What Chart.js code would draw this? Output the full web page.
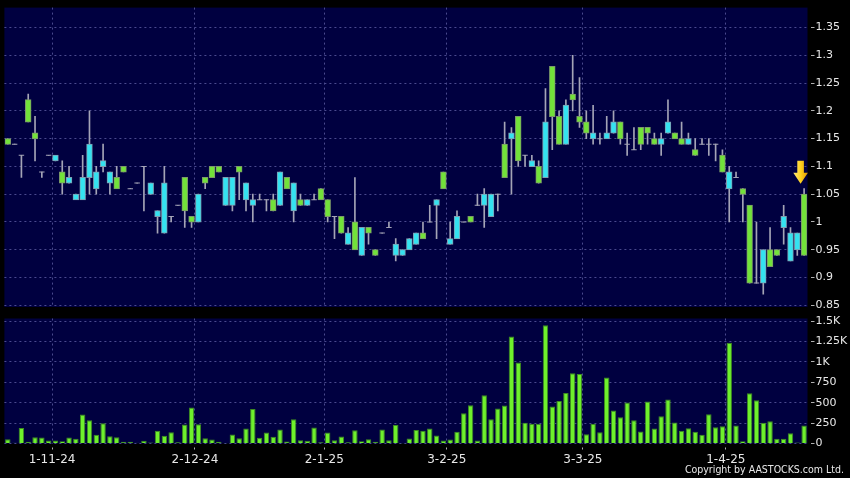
<!DOCTYPE html>
<html>
<head>
<meta charset="utf-8">
<script src="https://cdn.jsdelivr.net/npm/chart.js@4.4.1/dist/chart.umd.min.js"></script>
<style>
  html, body { margin: 0; padding: 0; background: #000; }
  #wrap { position: relative; width: 850px; height: 478px; overflow: hidden; background: #000; }
  #wrap canvas { position: absolute; left: 0; top: 0; }
  #copy {
    position: absolute; right: 6px; top: 463px;
    font-family: 'DejaVu Sans Condensed', 'DejaVu Sans', sans-serif;
    font-stretch: condensed; font-size: 10.5px; line-height: 13px;
    color: #e8e8e8; white-space: nowrap;
  }
</style>
</head>
<body>
<div id="wrap">
  <canvas id="price" width="850" height="478"></canvas>
  <canvas id="vol" width="850" height="478"></canvas>
  <div id="copy">Copyright by AASTOCKS.com Ltd.</div>
</div>
<script>
// ---------------- DATA ----------------
const openP = [1.15,1.14,1.12,1.22,1.16,1.09,1.12,1.11,1.09,1.07,1.04,1.04,1.08,1.06,1.10,1.07,1.08,1.10,1.06,1.07,
  1.10,1.05,1.01,0.98,1.01,1.03,1.08,1.01,1.00,1.08,1.10,1.10,1.03,1.03,1.10,1.04,1.03,1.04,1.04,1.04,
  1.03,1.08,1.02,1.04,1.03,1.04,1.06,1.04,1.01,1.01,0.96,1.00,0.94,0.99,0.95,0.98,0.99,0.94,0.94,0.95,
  0.96,0.98,1.00,1.03,1.09,0.96,0.97,1.00,1.01,1.03,1.03,1.01,1.05,1.14,1.15,1.19,1.12,1.10,1.10,1.08,
  1.28,1.19,1.14,1.23,1.19,1.18,1.15,1.15,1.15,1.16,1.18,1.14,1.13,1.17,1.17,1.15,1.14,1.16,1.16,1.15,
  1.14,1.13,1.14,1.14,1.14,1.12,1.06,1.08,1.06,1.03,0.89,0.89,0.95,0.95,0.99,0.93,0.95,1.05];
const highP = [1.15,1.14,1.12,1.23,1.19,1.09,1.12,1.12,1.11,1.10,1.05,1.12,1.20,1.10,1.14,1.09,1.10,1.10,1.06,1.07,
  1.10,1.07,1.02,1.10,1.01,1.03,1.08,1.01,1.05,1.08,1.10,1.10,1.08,1.08,1.10,1.07,1.05,1.05,1.04,1.05,
  1.09,1.08,1.07,1.05,1.04,1.05,1.06,1.04,1.01,1.01,0.99,1.08,0.99,0.99,0.95,0.98,1.00,0.97,0.95,0.97,
  0.98,1.00,1.03,1.04,1.09,1.00,1.02,1.00,1.01,1.05,1.06,1.05,1.05,1.18,1.17,1.19,1.12,1.12,1.11,1.24,
  1.28,1.20,1.22,1.30,1.26,1.20,1.21,1.16,1.19,1.20,1.18,1.16,1.17,1.17,1.17,1.16,1.16,1.22,1.16,1.18,
  1.16,1.15,1.15,1.15,1.14,1.13,1.10,1.09,1.06,1.03,1.00,0.95,0.99,0.95,1.03,0.99,0.98,1.06];
const lowP = [1.14,1.14,1.08,1.18,1.11,1.08,1.12,1.11,1.05,1.07,1.04,1.04,1.05,1.05,1.09,1.05,1.06,1.09,1.06,1.07,
  1.02,1.05,0.98,0.98,1.00,1.03,0.99,0.99,1.00,1.06,1.08,1.09,1.03,1.02,1.04,1.02,1.00,1.04,1.02,1.02,
  1.03,1.06,1.00,1.03,1.03,1.04,1.04,1.00,0.97,0.98,0.96,0.95,0.94,0.96,0.94,0.98,0.99,0.93,0.94,0.95,
  0.96,0.97,1.00,0.97,1.06,0.96,0.97,1.00,1.00,1.03,0.99,1.01,1.02,1.08,1.05,1.10,1.10,1.10,1.07,1.08,
  1.13,1.14,1.14,1.20,1.17,1.15,1.14,1.14,1.15,1.16,1.14,1.12,1.13,1.13,1.14,1.14,1.12,1.16,1.15,1.14,
  1.14,1.12,1.14,1.12,1.11,1.09,1.00,1.08,1.00,0.89,0.89,0.87,0.92,0.94,0.96,0.93,0.94,0.94];
const closeP = [1.14,1.14,1.12,1.18,1.15,1.09,1.12,1.12,1.07,1.08,1.05,1.08,1.14,1.09,1.11,1.09,1.06,1.09,1.06,1.07,
  1.10,1.07,1.02,1.07,1.01,1.03,1.02,1.00,1.05,1.07,1.08,1.09,1.08,1.08,1.09,1.07,1.04,1.04,1.04,1.02,
  1.09,1.06,1.07,1.03,1.04,1.04,1.04,1.01,1.01,0.98,0.98,0.95,0.99,0.98,0.94,0.98,0.99,0.96,0.95,0.97,
  0.98,0.97,1.00,1.04,1.06,0.97,1.01,1.00,1.00,1.03,1.05,1.05,1.05,1.08,1.16,1.11,1.12,1.11,1.07,1.18,
  1.19,1.14,1.21,1.22,1.18,1.16,1.16,1.15,1.16,1.18,1.15,1.14,1.13,1.14,1.16,1.14,1.15,1.18,1.15,1.14,
  1.15,1.12,1.14,1.14,1.14,1.09,1.09,1.08,1.05,0.89,0.89,0.95,0.92,0.94,1.01,0.98,0.98,0.94];
const volume = [53,10,191,20,77,73,37,37,29,73,57,355,285,106,249,89,77,20,20,8,
  33,12,155,94,139,16,232,441,236,65,49,20,3,110,65,184,424,69,135,82,
  171,26,298,40,33,196,16,135,40,86,16,163,29,53,20,171,40,228,3,61,
  167,155,184,98,37,49,143,371,469,37,592,298,428,465,1311,992,253,241,241,1449,
  453,522,620,863,853,114,241,139,808,404,322,502,285,147,514,184,334,539,257,155,
  187,143,106,359,200,212,1237,220,28,616,530,253,273,57,57,126,12,220];
const categories = closeP.map((_, i) => i);           // trading-day index
const monthStartIdx = [7, 28, 47, 65, 85, 106];
const monthLabels = ['1-11-24', '2-12-24', '2-1-25', '3-2-25', '3-3-25', '1-4-25'];
const priceTicks = [0.85, 0.9, 0.95, 1, 1.05, 1.1, 1.15, 1.2, 1.25, 1.3, 1.35];
const priceTickLabels = ['0.85', '0.9', '0.95', '1', '1.05', '1.1', '1.15', '1.2', '1.25', '1.3', '1.35'];
const volTicks = [0, 250, 500, 750, 1000, 1250, 1500];
const volTickLabels = ['0', '250', '500', '750', '1K', '1.25K', '1.5K'];

// ---------------- STYLE ----------------
const NAVY = '#000040';
const GRID = '#4a4a8e';
const WICK = '#a4a4b6';
const UP = '#34e2f0', UP_BORDER = '#7f9db0';
const DOWN = '#72e23a', DOWN_BORDER = '#7c9a68';
const VOLC = '#6ef02c', VOL_BORDER = '#3e8c20';
const TXT = '#e8e8e8';
const FONT = "'DejaVu Sans', sans-serif";

const isDoji = openP.map((o, i) => o === closeP[i]);
const bodyData = openP.map((o, i) => {
  const c = closeP[i];
  return isDoji[i] ? [o - 0.0009, o + 0.0009] : [Math.min(o, c), Math.max(o, c)];
});
const bodyFill = openP.map((o, i) => closeP[i] > o ? UP : (closeP[i] < o ? DOWN : WICK));
const bodyBorder = openP.map((o, i) => closeP[i] > o ? UP_BORDER : (closeP[i] < o ? DOWN_BORDER : WICK));
const bodyBW = isDoji.map(d => d ? 0 : 1);
const bodyInflate = isDoji.map(d => d ? 0 : 0.5);
const wickData = lowP.map((l, i) => [l, highP[i]]);

const isMonth = (ctx) => ctx && ctx.index !== undefined && monthStartIdx.includes(ctx.index);

const areaBg = {
  id: 'areaBg',
  beforeDraw(chart) {
    const a = chart.chartArea, ctx = chart.ctx;
    ctx.save();
    ctx.fillStyle = NAVY;
    ctx.fillRect(a.left, a.top, a.right - a.left, a.bottom - a.top);
    ctx.restore();
  }
};

const arrow = {
  id: 'arrow',
  afterDatasetsDraw(chart) {
    const last = closeP.length - 1;
    const x = chart.scales.x.getPixelForValue(last) - 3.5;
    const tip = chart.scales.y.getPixelForValue(highP[last]) - 5;
    const ctx = chart.ctx;
    ctx.save();
    const g = ctx.createLinearGradient(x - 7, 0, x + 7, 0);
    g.addColorStop(0, '#ffe878');
    g.addColorStop(0.5, '#ffd21e');
    g.addColorStop(1, '#e09a00');
    ctx.fillStyle = g;
    ctx.beginPath();
    ctx.moveTo(x - 3.3, tip - 23);
    ctx.lineTo(x + 3.3, tip - 23);
    ctx.lineTo(x + 3.3, tip - 11);
    ctx.lineTo(x + 7.3, tip - 11);
    ctx.lineTo(x, tip);
    ctx.lineTo(x - 7.3, tip - 11);
    ctx.lineTo(x - 3.3, tip - 11);
    ctx.closePath();
    ctx.fill();
    ctx.restore();
  }
};

const common = {
  responsive: false,
  animation: false,
  events: [],
  plugins: { legend: { display: false }, tooltip: { enabled: false } }
};

new Chart(document.getElementById('price'), {
  type: 'bar',
  data: {
    labels: categories,
    datasets: [
      { data: wickData, backgroundColor: WICK, barThickness: 1, grouped: false, order: 2 },
      { data: bodyData, backgroundColor: bodyFill, borderColor: bodyBorder, borderWidth: bodyBW,
        borderSkipped: false, inflateAmount: bodyInflate, barPercentage: 0.8, categoryPercentage: 1,
        grouped: false, order: 1 }
    ]
  },
  options: Object.assign({}, common, {
    layout: { padding: { left: 4.4, top: 6, right: 0, bottom: 171 } },
    scales: {
      x: {
        type: 'category', offset: true,
        grid: { offset: true, color: c => isMonth(c) ? GRID : 'rgba(0,0,0,0)', drawTicks: false },
        border: { display: false, dash: [2, 3] },
        ticks: { display: false },
        afterFit: s => { s.height = 0; }
      },
      y: {
        position: 'right', min: 0.847, max: 1.3858,
        afterBuildTicks: s => { s.ticks = priceTicks.map(v => ({ value: v })); },
        grid: { color: GRID, tickColor: '#b0b0b0', tickLength: 7, tickBorderDash: [0, 3, 4, 20] },
        border: { display: false, dash: [2, 3] },
        ticks: { color: TXT, font: { family: FONT, size: 11 }, padding: 1,
          callback: (v, i) => priceTickLabels[i] },
        afterFit: s => { s.width = 42.5; }
      }
    }
  }),
  plugins: [areaBg, arrow]
});

new Chart(document.getElementById('vol'), {
  type: 'bar',
  data: {
    labels: categories,
    datasets: [
      { data: volume, backgroundColor: VOLC, borderColor: VOL_BORDER, borderWidth: 1,
        borderSkipped: 'bottom', barPercentage: 0.8, categoryPercentage: 1 }
    ]
  },
  options: Object.assign({}, common, {
    layout: { padding: { left: 4.4, top: 318.5, right: 0, bottom: 0 } },
    scales: {
      x: {
        type: 'category', offset: true,
        grid: { offset: true, color: c => isMonth(c) ? GRID : 'rgba(0,0,0,0)',
          tickColor: c => isMonth(c) ? '#b0b0b0' : 'rgba(0,0,0,0)', tickLength: 6,
          tickBorderDash: [0, 3.5, 2.5, 30] },
        border: { display: false, dash: [2, 3] },
        ticks: { autoSkip: false, maxRotation: 0, minRotation: 0, labelOffset: -3.4, padding: 3,
          color: TXT, font: { family: FONT, size: 12 },
          callback: (v, i) => { const k = monthStartIdx.indexOf(i); return k >= 0 ? monthLabels[k] : ''; } },
        afterFit: s => { s.height = 34.5; }
      },
      y: {
        position: 'right', min: 0, max: 1533,
        afterBuildTicks: s => { s.ticks = volTicks.map(v => ({ value: v })); },
        grid: { color: GRID, tickColor: '#b0b0b0', tickLength: 7, tickBorderDash: [0, 3, 4, 20] },
        border: { display: false, dash: [2, 3] },
        ticks: { color: TXT, font: { family: FONT, size: 11 }, padding: 1,
          callback: (v, i) => volTickLabels[i] },
        afterFit: s => { s.width = 42.5; }
      }
    }
  }),
  plugins: [areaBg]
});
</script>
</body>
</html>
